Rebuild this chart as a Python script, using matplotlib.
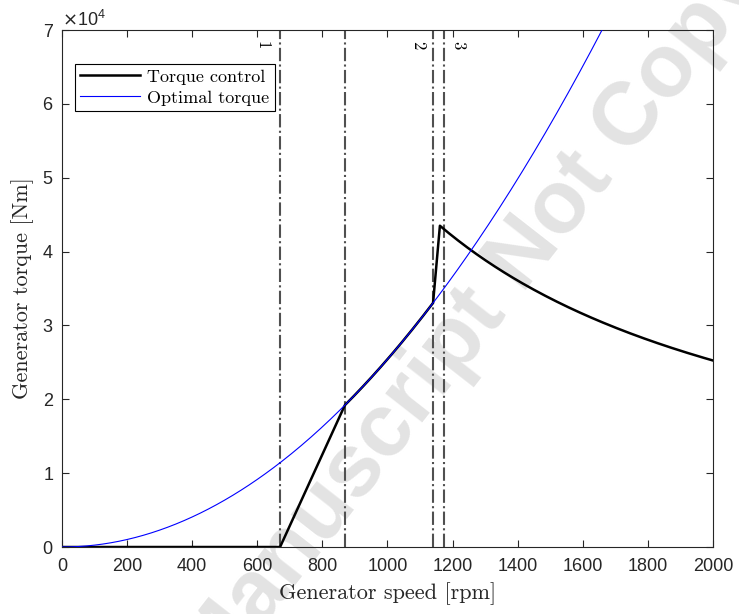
import numpy as np
import matplotlib
matplotlib.use("Agg")
import matplotlib.pyplot as plt
from matplotlib.ticker import ScalarFormatter

# optimal torque curve: T = k * w^2
K_OPT = 0.02543
speed_opt = np.linspace(0, 2000, 401)

# torque control breakpoints (rpm, Nm)
tc_speed_a = [0, 670, 869]
tc_torque_a = [0, 0, 19200]
tc_region2_end = 1140
tc_peak_speed = 1161
tc_peak_torque = 43500

# region boundaries (rpm) and labels
vlines = [670, 869, 1140, 1174]
vlabels = ["1", "2", "3"]
vlabel_x = [614, 1094, 1217]

w_opt = speed_opt
t_opt = K_OPT * w_opt ** 2

w2 = np.linspace(tc_speed_a[-1], tc_region2_end, 60)
w3 = np.linspace(tc_peak_speed, 2000, 120)
tc_speed = np.concatenate([tc_speed_a, w2, w3])
tc_torque = np.concatenate([tc_torque_a, K_OPT * w2 ** 2,
                            tc_peak_torque * tc_peak_speed / w3])

fig = plt.figure(figsize=(7.39, 6.14), dpi=100)
ax = fig.add_axes([0.0839, 0.1091, 0.8809, 0.8420])
ax.set_facecolor("none")

# watermark
fig.text(0.572, 0.372, "Accepted Manuscript Not Copyedited", fontsize=64,
         fontweight="bold", family="Liberation Sans", color="#e3e3e3",
         rotation=52, ha="center", va="center", rotation_mode="anchor",
         zorder=-5)

for x in vlines:
    ax.axvline(x, color="#505050", ls="-.", lw=1.5, zorder=1)

ax.plot(tc_speed, tc_torque, color="black", lw=1.8, label="Torque control", zorder=2)
ax.plot(w_opt, t_opt, color="blue", lw=0.8, label="Optimal torque", zorder=3)

for lab, x in zip(vlabels, vlabel_x):
    ax.text(x, 68000, lab, rotation=-90, family="cmr10", fontsize=12,
            ha="center", va="center")

ax.set_xlim(0, 2000)
ax.set_ylim(0, 70000)
ax.set_xticks(np.arange(0, 2001, 200))
ax.set_yticks(np.arange(0, 70001, 10000))

fmt = ScalarFormatter(useMathText=True)
fmt.set_powerlimits((0, 0))
ax.yaxis.set_major_formatter(fmt)

ax.tick_params(direction="in", top=True, right=True, length=5, width=0.8,
               labelsize=13, colors="#262626")
ax.tick_params(axis="x", pad=8)
ax.tick_params(axis="y", pad=6)
for lbl in ax.get_xticklabels() + ax.get_yticklabels():
    lbl.set_family("Liberation Sans")
ax.yaxis.get_offset_text().set_fontsize(13)
ax.yaxis.get_offset_text().set_family("Liberation Sans")
for sp in ax.spines.values():
    sp.set_color("#262626")
    sp.set_linewidth(0.8)

ax.set_xlabel("Generator speed [rpm]", family="cmr10", fontsize=16,
              color="#262626", labelpad=5)
ax.set_ylabel("Generator torque [Nm]", family="cmr10", fontsize=16,
              color="#262626", labelpad=6)

leg = ax.legend(loc="upper left", bbox_to_anchor=(0.02, 0.935), fancybox=False,
                framealpha=1, edgecolor="black", prop={"family": "cmr10", "size": 13},
                handlelength=3.3, borderpad=0.3, labelspacing=0.3,
                handletextpad=0.4, borderaxespad=0)
leg.get_frame().set_linewidth(0.8)

fig.savefig("out.png", dpi=100)
